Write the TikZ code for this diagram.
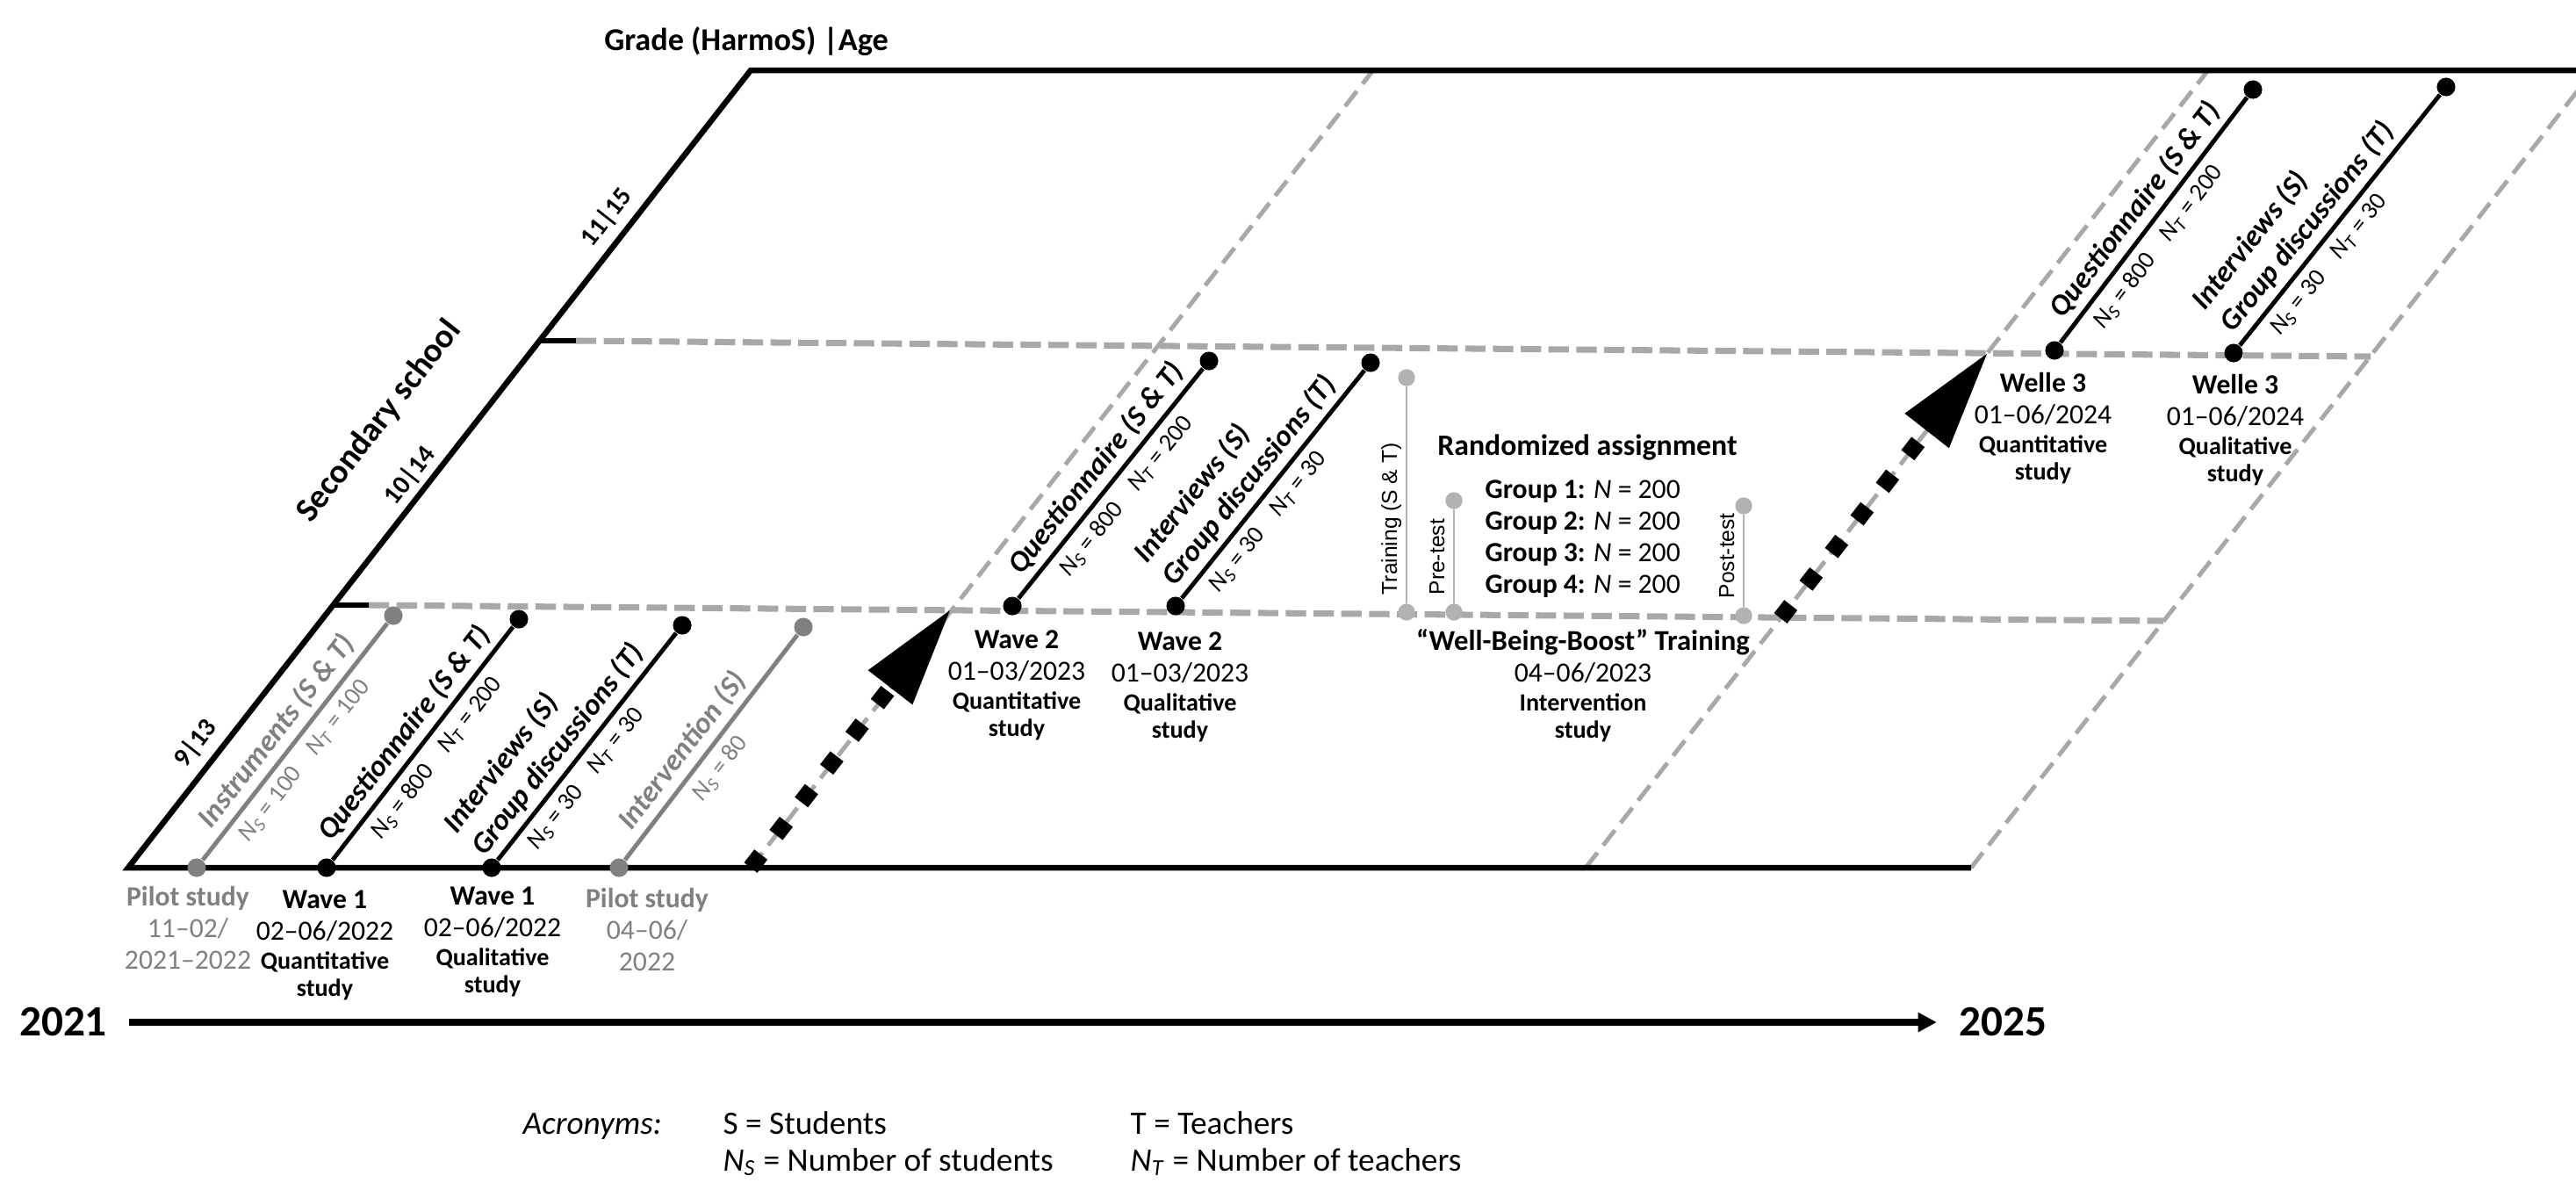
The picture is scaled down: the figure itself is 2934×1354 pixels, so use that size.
\documentclass[tikz,border=0pt]{standalone}
\usepackage{fontspec}
\setmainfont{Carlito}
\newfontfamily\arialfont{Liberation Sans}
\usetikzlibrary{arrows.meta}
\definecolor{pilotgray}{RGB}{128,128,128}
\definecolor{dashgray}{RGB}{168,168,168}
\definecolor{thingray}{RGB}{178,178,178}
\newcommand{\Nsub}[1]{\textit{N}\textsubscript{\textit{#1}}}
\newcommand{\nst}[2]{\Nsub{S} = #1\hspace{0.9em}\Nsub{T} = #2}
\newcommand{\kind}[1]{{\fontsize{8}{9}\selectfont\bfseries #1}}
\tikzset{
  frame/.style={line width=1.85pt},
  griddash/.style={dashgray,line width=2pt,dash pattern=on 6.6pt off 2.4pt},
  yeardash/.style={dashgray,line width=1.4pt,dash pattern=on 6.2pt off 3pt},
  jump/.style={line width=5.4pt,dash pattern=on 5.4pt off 8pt,
    -{Triangle[length=33pt,width=16.5pt]}},
  dot/.style={circle,fill,inner sep=0pt,minimum size=6pt},
  smalldot/.style={circle,fill=thingray,inner sep=0pt,minimum size=5.5pt},
  stem/.style={line width=1.4pt},
  lab/.style={sloped,above,inner sep=1.8pt,align=left,
    font=\fontsize{9.6}{11.6}\selectfont\bfseries\itshape},
  nlab/.style={sloped,below,inner sep=2.5pt,font=\fontsize{8}{9.5}\selectfont},
  info/.style={align=center,anchor=north,inner sep=0pt,
    font=\fontsize{9}{10.2}\selectfont},
  edgelab/.style={rotate=52,font=\fontsize{8.5}{10}\selectfont\bfseries},
  testlab/.style={rotate=90,anchor=base west,inner sep=0pt,
    font=\arialfont\fontsize{7}{8}\selectfont},
  year/.style={inner xsep=7pt,inner ysep=0pt,font=\fontsize{14}{16}\selectfont\bfseries},
  legend/.style={anchor=base west,inner sep=0pt,font=\fontsize{10.6}{12}\selectfont},
}
\begin{document}
\begin{tikzpicture}[x=0.01cm,y=-0.01cm]
  \useasboundingbox (0,0) rectangle (2934,1354);
  \coordinate (O) at (146,988);
  \coordinate (TL) at (855,80);
  \coordinate (BR) at (2245,988);
  \coordinate (TR) at (2934,80);
  \coordinate (g1) at (379,689);  \coordinate (g1e) at (420,689);
  \coordinate (g2) at (614,388);  \coordinate (g2e) at (656,388);
  \coordinate (h1) at (2464,707); \coordinate (h2) at (2700,406);
  % year boundaries run parallel to the grade axis
  \foreach \id/\bx in {y1/855,y2/1806,y3/2245}{
    \coordinate (\id-b) at (\bx,988);
    \coordinate (\id-t) at (\bx+709,80);
    \draw[yeardash] (\id-b) -- (\id-t);
  }
  \draw[griddash] (g1e) -- (h1);
  \draw[griddash] (g2e) -- (h2);
  \draw[frame] (TR) -- (TL) -- (O) -- (BR);
  \draw[frame] (g1) -- (g1e);
  \draw[frame] (g2) -- (g2e);
  \coordinate (j1) at (1085,691);
  \coordinate (j2-b) at (2028,704); \coordinate (j2) at (2266,399);
  \draw[jump] (y1-b) -- (j1);
  \draw[jump] (j2-b) -- (j2);

  \node[edgelab] (a9) at (223,847) {9|13};
  \node[edgelab] (a10) at (467,542) {10|14};
  \node[edgelab] (a11) at (691,248) {11|15};
  \node[edgelab,font=\fontsize{11}{12}\selectfont\bfseries] (sec) at (432,480) {Secondary school};
  \node[font=\fontsize{10.3}{12}\selectfont\bfseries] (grade) at (850,47) {Grade (HarmoS) |Age};

  % measurement instruments, one stem per survey
  \foreach \id/\bx/\by/\tx/\ty/\col/\pl/\pn/\lab/\num in {
    ins/224/988/448/701/pilotgray/0.49/0.47/{Instruments (S \& T)}/{\nst{100}{100}},
    q1/372/988/591/705/black/0.49/0.49/{Questionnaire (S \& T)}/{\nst{800}{200}},
    i1/560/988/777/712/black/0.43/0.41/{Interviews (S)\\Group discussions (T)}/{\nst{30}{30}},
    int/705/988/915/714/pilotgray/0.43/0.46/{Intervention (S)}/{\Nsub{S} = 80},
    q2/1153/690/1377/411/black/0.51/0.5/{Questionnaire (S \& T)}/{\nst{800}{200}},
    i2/1339/690/1561/413/black/0.46/0.39/{Interviews (S)\\Group discussions (T)}/{\nst{30}{30}},
    q3/2340/399/2566/102/black/0.49/0.44/{Questionnaire (S \& T)}/{\nst{800}{200}},
    i3/2544/402/2786/99/black/0.42/0.37/{Interviews (S)\\Group discussions (T)}/{\nst{30}{30}}}{
    \node[dot,fill=\col] (\id-b) at (\bx,\by) {};
    \node[dot,fill=\col] (\id-t) at (\tx,\ty) {};
    \draw[stem,\col] (\id-b) -- node[lab,pos=\pl,text=\col]{\lab}
      node[nlab,pos=\pn,text=\col]{\num} (\id-t);
  }

  \foreach \id/\x/\ty/\by/\lab in {trn/1602/430/697/{Training (S \& T)},
    pre/1656/570/697/{Pre-test},post/1986/576/701/{Post-test}}{
    \node[smalldot] (\id-t) at (\x,\ty) {};
    \node[smalldot] (\id-b) at (\x,\by) {};
    \draw[thingray,line width=0.7pt] (\id-b) -- (\id-t);
    \node[testlab] (\id-l) at (\x-11,\by-19) {\lab};
  }

  \node[info,text=pilotgray] (p1) at (214,1009)
    {\textbf{Pilot study}\\ 11–02/\\ 2021–2022};
  \node[info] (w1a) at (370,1013)
    {\textbf{Wave 1}\\ 02–06/2022\\[-0.8pt] \kind{Quantitative}\\[-1.4pt] \kind{study}};
  \node[info] (w1b) at (561,1009)
    {\textbf{Wave 1}\\ 02–06/2022\\[-0.8pt] \kind{Qualitative}\\[-1.4pt] \kind{study}};
  \node[info,text=pilotgray] (p2) at (737,1011)
    {\textbf{Pilot study}\\ 04–06/\\ 2022};
  \node[info] (w2a) at (1158,717)
    {\textbf{Wave 2}\\ 01–03/2023\\[-0.8pt] \kind{Quantitative}\\[-1.4pt] \kind{study}};
  \node[info] (w2b) at (1344,719)
    {\textbf{Wave 2}\\ 01–03/2023\\[-0.8pt] \kind{Qualitative}\\[-1.4pt] \kind{study}};
  \node[info] (wbb) at (1803,716)
    {{\fontsize{9.3}{10.2}\selectfont\bfseries “Well-Being-Boost” Training}\\ 04–06/2023\\[-0.8pt]
     \kind{Intervention}\\[-1.4pt] \kind{study}};
  \node[info] (w3a) at (2327,424)
    {\textbf{Welle 3}\\ 01–06/2024\\[-0.8pt] \kind{Quantitative}\\[-1.4pt] \kind{study}};
  \node[info] (w3b) at (2546,426)
    {\textbf{Welle 3}\\ 01–06/2024\\[-0.8pt] \kind{Qualitative}\\[-1.4pt] \kind{study}};

  \node[font=\fontsize{9.6}{11}\selectfont\bfseries] (rand) at (1808,510) {Randomized assignment};
  \node[info,anchor=north west,align=left] (grp) at (1691,546)
    {\textbf{Group 1:} \textit{N} = 200\\ \textbf{Group 2:} \textit{N} = 200\\
     \textbf{Group 3:} \textit{N} = 200\\ \textbf{Group 4:} \textit{N} = 200};

  \node[year] (y2021) at (72,1164) {2021};
  \node[year] (y2025) at (2281,1164) {2025};
  \draw[line width=2.3pt,-{Triangle[length=6pt,width=6pt]}] (y2021) -- (y2025);

  \node[legend,font=\fontsize{10.6}{12}\selectfont\itshape] (acr) at (595,1291) {Acronyms:};
  \node[legend] (accS) at (823,1291) {S = Students};
  \node[legend] (accT) at (1287,1291) {T = Teachers};
  \node[legend] (accNS) at (823,1333) {\Nsub{S} = Number of students};
  \node[legend] (accNT) at (1287,1333) {\Nsub{T} = Number of teachers};
\end{tikzpicture}
\end{document}
